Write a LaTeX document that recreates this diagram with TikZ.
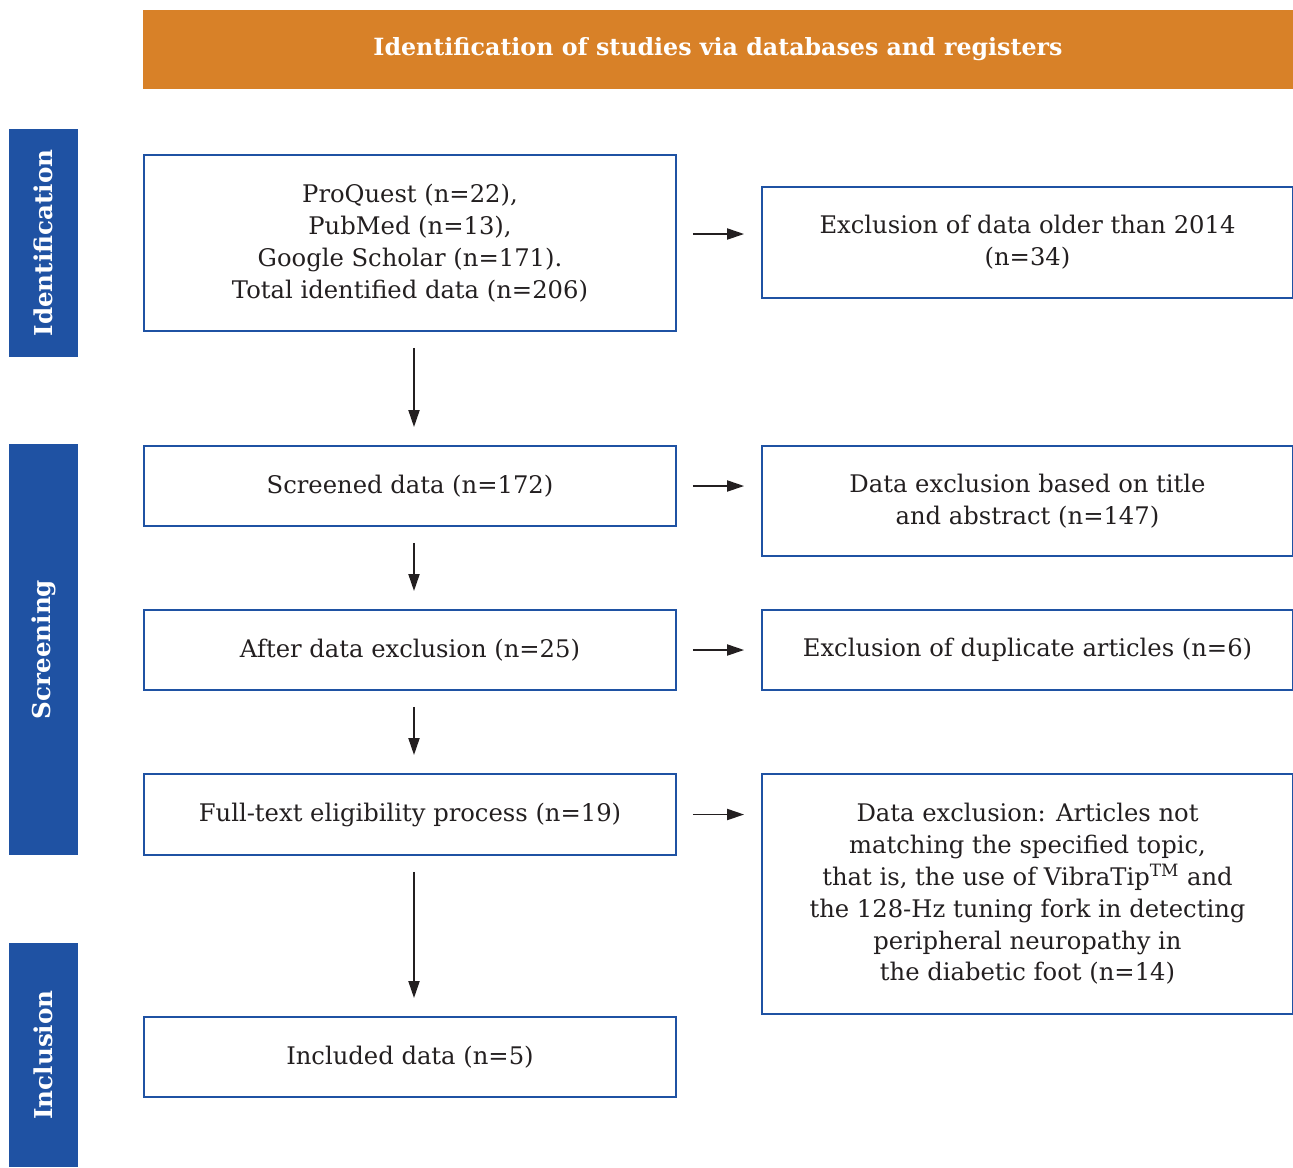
\documentclass[tikz,border=0pt]{standalone}
\usepackage{fontspec}
\setmainfont{DejaVu Serif}
\usetikzlibrary{arrows.meta}
\definecolor{headorange}{HTML}{D88128}
\definecolor{stageblue}{HTML}{1F52A3}
\definecolor{textdark}{HTML}{231F20}

\begin{document}
\begin{tikzpicture}[x=0.02cm, y=-0.02cm,
    box/.style={draw=stageblue, line width=1.1pt, align=center, inner sep=0pt, text=textdark, font=\fontsize{13.8}{18.1}\selectfont},
    stage/.style={fill=stageblue, text=white, rotate=90, inner sep=0pt, minimum height=1.38cm, font=\bfseries\fontsize{14}{16}\selectfont},
    arr/.style={-{Triangle[length=0.34cm,width=0.22cm]}, line width=1.1pt, textdark, shorten <=0.32cm, shorten >=0.34cm}]
    \useasboundingbox (0,0) rectangle (1293,1167);

    % header and stages
    \node[fill=headorange, text=white, minimum width=23cm, minimum height=1.58cm, inner sep=0pt,
          font=\bfseries\fontsize{13.5}{16}\selectfont] (head) at (718,49.5) {Identification of studies via databases and registers};
    \node[stage, minimum width=4.56cm] (ident) at (43.5,243) {Identification};
    \node[stage, minimum width=8.22cm] (screen) at (43.5,649.5) {Screening};
    \node[stage, minimum width=4.48cm] (incl) at (43.5,1055) {Inclusion};

    % left column
    \node[box, minimum width=10.64cm, minimum height=3.52cm] (b1) at (410,243)
        {ProQuest (n=22),\\PubMed (n=13),\\Google Scholar (n=171).\\Total identified data (n=206)};
    \node[box, minimum width=10.64cm, minimum height=1.6cm] (b2) at (410,486) {Screened data (n=172)};
    \node[box, minimum width=10.64cm, minimum height=1.6cm] (b3) at (410,650) {After data exclusion (n=25)};
    \node[box, minimum width=10.64cm, minimum height=1.62cm] (b4) at (410,814.5) {Full-text eligibility process (n=19)};
    \node[box, minimum width=10.64cm, minimum height=1.6cm] (b5) at (410,1057) {Included data (n=5)};

    % right column
    \node[box, minimum width=10.62cm, minimum height=2.22cm] (r1) at (1027.5,242.5)
        {Exclusion of data older than 2014\\(n=34)};
    \node[box, minimum width=10.62cm, minimum height=2.2cm] (r2) at (1027.5,501)
        {Data exclusion based on title\\and abstract (n=147)};
    \node[box, minimum width=10.62cm, minimum height=1.6cm] (r3) at (1027.5,650)
        {Exclusion of duplicate articles (n=6)};
    \node[box, minimum width=10.62cm, minimum height=4.8cm] (r4) at (1027.5,894)
        {Data exclusion: Articles not\\matching the specified topic,\\that is, the use of VibraTip\textsuperscript{TM} and\\the 128-Hz tuning fork in detecting\\peripheral neuropathy in\\the diabetic foot (n=14)};

    % arrows
    \draw[arr, shorten >=0.36cm] ([xshift=0.08cm]b1.south) -- ([xshift=0.08cm]b2.north);
    \draw[arr, shorten >=0.36cm] ([xshift=0.08cm]b2.south) -- ([xshift=0.08cm]b3.north);
    \draw[arr, shorten >=0.36cm] ([xshift=0.08cm]b3.south) -- ([xshift=0.08cm]b4.north);
    \draw[arr, shorten >=0.36cm] ([xshift=0.08cm]b4.south) -- ([xshift=0.08cm]b5.north);
    \draw[arr] ([yshift=0.18cm]b1.east) -- ([yshift=0.18cm]b1.east -| r1.west);
    \draw[arr] (b2.east) -- (b2.east -| r2.west);
    \draw[arr] (b3.east) -- (b3.east -| r3.west);
    \draw[arr] (b4.east) -- (b4.east -| r4.west);
\end{tikzpicture}
\end{document}
